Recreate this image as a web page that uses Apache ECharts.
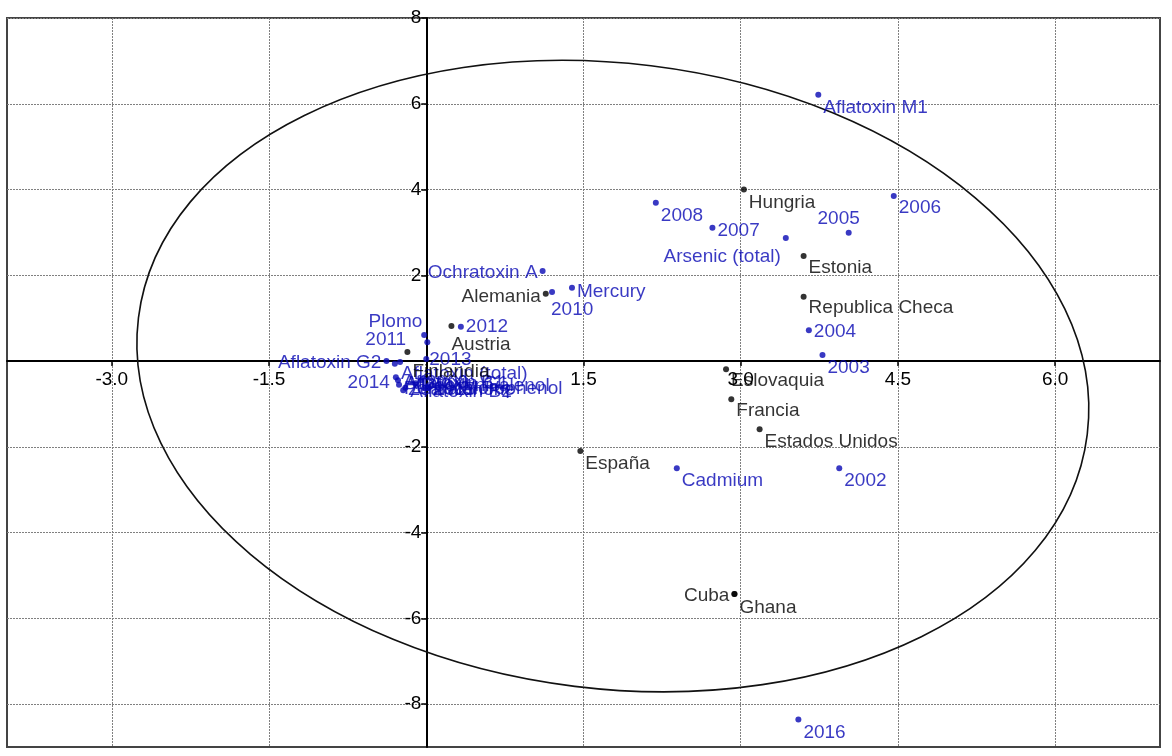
<!DOCTYPE html>
<html>
<head>
<meta charset="utf-8">
<script src="https://cdn.jsdelivr.net/npm/echarts@6/dist/echarts.min.js"></script>
<style>
html,body{margin:0;padding:0;background:#fff;}
#chart{width:1172px;height:756px;}
</style>
</head>
<body>
<div id="chart"></div>
<script>
// ---------- DATA ----------
const countryNames = ['Hungria','Estonia','Republica Checa','Alemania','Austria','Finlandia','Eslovaquia','Francia','Estados Unidos','España','Cuba','Ghana'];
const countryX = [3.03, 3.60, 3.60, 1.14, 0.24, -0.18, 2.86, 2.91, 3.18, 1.47, 2.94, 2.94];
const countryY = [4.00, 2.45, 1.50, 1.57, 0.82, 0.21, -0.19, -0.89, -1.59, -2.10, -5.43, -5.43];

const variableNames = ['Aflatoxin M1','2006','2005','Arsenic (total)','2008','2007','2004','2003','2002','Cadmium','Mercury','2010','Ochratoxin A','2016','2012','Plomo','2011','2013','Aflatoxin G2','2014','Aflatoxin G1','Aflatoxin B1','Aflatoxin (total)','Pentachlorophenol','Aflatoxin B2','Deoxynivalenol','2009','2015','Zearalenone'];
const variableX = [3.74, 4.46, 4.03, 3.43, 2.19, 2.73, 3.65, 3.78, 3.94, 2.39, 1.39, 1.20, 1.11, 3.55, 0.33, 0.01, -0.02, 0.00, -0.38, -0.30, -0.25, -0.27, -0.29, -0.26, -0.20, -0.10, -0.05, 0.02, -0.22];
const variableY = [6.21, 3.85, 2.99, 2.87, 3.69, 3.11, 0.72, 0.14, -2.50, -2.50, 1.71, 1.61, 2.10, -8.36, 0.80, 0.44, 0.61, 0.05, 0.00, -0.06, -0.02, -0.45, -0.38, -0.55, -0.62, -0.52, -0.45, -0.62, -0.68];

const xTickLabels = [-3.0, -1.5, 1.5, 3.0, 4.5, 6.0];
const yTickLabels = [-8, -6, -4, -2, 2, 4, 6, 8];

// Confidence ellipse: centre, semi-axes (data units), tilt (degrees, clockwise on screen)
const ellipseCenter = [1.78, -0.35];
const ellipseRadii = [4.56, 7.29];
const ellipseTilt = 7;

// ---------- LABEL PLACEMENT (style) ----------
const FONT = '"Liberation Sans", Arial, sans-serif';
const FS = 19;
const BLUE = '#0808b4';
const BLACK = '#000';
// [side, dx, dy] : side of the dot, then pixel nudge
const labelPlace = {
  'Hungria': ['right', 0, 13], 'Estonia': ['right', 0, 12], 'Republica Checa': ['right', 0, 11],
  'Alemania': ['left', 0, 3], 'Austria': ['right', -5, 19], 'Finlandia': ['right', 0, 20],
  'Eslovaquia': ['right', 0, 12], 'Francia': ['right', 0, 12], 'Estados Unidos': ['right', 0, 13],
  'España': ['right', 0, 13], 'Cuba': ['left', 0, 2], 'Ghana': ['right', 0, 14],
  'Aflatoxin M1': ['right', 0, 13], '2006': ['right', 0, 12], '2005': ['top', -10, 0],
  'Arsenic (total)': ['left', 0, 19], '2008': ['right', 0, 13], '2007': ['right', 0, 3],
  '2004': ['right', 0, 2], '2003': ['right', 0, 13], '2002': ['right', 0, 13],
  'Cadmium': ['right', 0, 13], 'Mercury': ['right', 0, 4], '2010': ['right', -6, 18],
  'Ochratoxin A': ['left', 0, 2], '2016': ['right', 0, 13], '2012': ['right', 0, 0],
  'Plomo': ['left', 0, -20], '2011': ['left', -13, 5], '2013': ['right', -2, 1],
  'Aflatoxin G2': ['left', 0, 2], '2014': ['left', 0, 19], 'Aflatoxin G1': ['right', 0, 22],
  'Aflatoxin B1': ['right', 0, 2], 'Aflatoxin (total)': ['right', 0, -4], 'Pentachlorophenol': ['right', 0, 4],
  'Aflatoxin B2': ['right', 0, 4], 'Deoxynivalenol': ['right', 0, 2], '2009': ['right', 0, 2],
  '2015': ['right', 0, 2], 'Zearalenone': ['right', 0, 0]
};

function buildPoints(names, xs, ys) {
  return names.map((n, i) => {
    const p = labelPlace[n] || ['right', 0, 12];
    return { name: n, value: [xs[i], ys[i]], label: { position: p[0] } };
  });
}
function makeLayout(names) {
  return function (params) {
    const p = labelPlace[names[params.dataIndex]] || ['right', 0, 12];
    return { dx: p[1], dy: p[2], hideOverlap: false };
  };
}

const chart = echarts.init(document.getElementById('chart'), null, { renderer: 'canvas' });

const splitStyle = { show: true, lineStyle: { color: '#808080', width: 1, type: [2, 1] } };
const X_MIN = -4, X_MAX = 7, Y_MIN = -9, Y_MAX = 8;

chart.setOption({
  animation: false,
  backgroundColor: '#fff',
  grid: { left: 7, right: 12, top: 18, bottom: 9, show: true, borderColor: '#444', borderWidth: 2, containLabel: false, outerBoundsMode: 'none' },
  xAxis: {
    type: 'value', min: X_MIN, max: X_MAX, interval: 1,
    axisLine: { onZero: false, lineStyle: { color: '#000', width: 2 } },
    axisTick: { show: true, customValues: xTickLabels, length: 5, inside: false, lineStyle: { color: '#000', width: 1.5 } },
    axisLabel: { customValues: xTickLabels, formatter: v => Number(v).toFixed(1), fontFamily: FONT, fontSize: FS, color: BLACK, margin: 9 },
    splitLine: splitStyle
  },
  yAxis: {
    type: 'value', min: Y_MIN, max: Y_MAX, interval: 1,
    axisLine: { onZero: false, lineStyle: { color: '#000', width: 2 } },
    axisTick: { show: true, customValues: yTickLabels, length: 5, lineStyle: { color: '#000', width: 1.5 } },
    axisLabel: { customValues: yTickLabels, fontFamily: FONT, fontSize: FS, color: BLACK, margin: 5 },
    splitLine: splitStyle
  },
  series: [
    {
      type: 'custom',
      silent: true,
      z: 1,
      data: [ellipseCenter],
      renderItem: function (params, api) {
        const c = api.coord(ellipseCenter);
        const s = api.size(ellipseRadii);
        return {
          type: 'ellipse',
          x: c[0], y: c[1],
          rotation: -ellipseTilt * Math.PI / 180,
          shape: { cx: 0, cy: 0, rx: s[0], ry: s[1] },
          style: { fill: 'none', stroke: '#111', lineWidth: 1.6 }
        };
      }
    },
    {
      type: 'scatter',
      z: 3,
      symbolSize: 6,
      itemStyle: { color: BLUE },
      label: { show: true, formatter: '{b}', color: BLUE, fontFamily: FONT, fontSize: FS, distance: 2 },
      labelLayout: makeLayout(variableNames),
      data: buildPoints(variableNames, variableX, variableY)
    },
    {
      type: 'scatter',
      z: 4,
      symbolSize: 6,
      itemStyle: { color: '#000' },
      label: { show: true, formatter: '{b}', color: BLACK, fontFamily: FONT, fontSize: FS, distance: 2 },
      labelLayout: makeLayout(countryNames),
      data: buildPoints(countryNames, countryX, countryY)
    }
  ]
});

// Move both axes (line, ticks and labels) onto the origin, as in the reference biplot.
const origin = chart.convertToPixel({ gridIndex: 0 }, [0, 0]);
const bottomLeft = chart.convertToPixel({ gridIndex: 0 }, [X_MIN, Y_MIN]);
chart.setOption({
  xAxis: { offset: origin[1] - bottomLeft[1] },
  yAxis: { offset: bottomLeft[0] - origin[0] }
});
</script>
</body>
</html>
